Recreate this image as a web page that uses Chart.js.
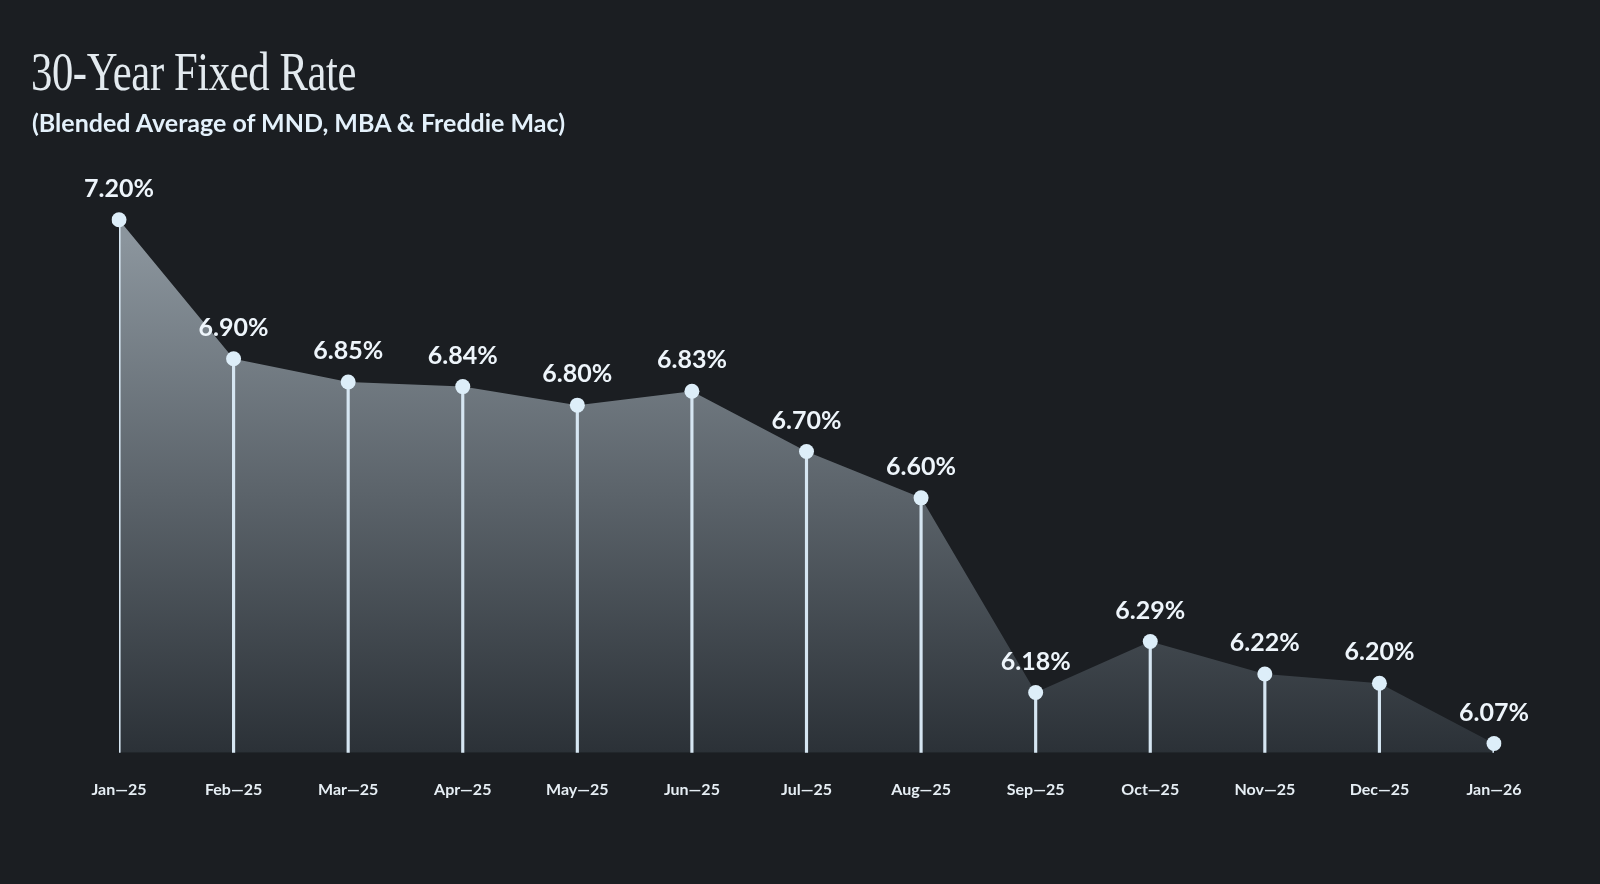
<!DOCTYPE html>
<html>
<head>
<meta charset="utf-8">
<script src="https://cdn.jsdelivr.net/npm/chart.js@4.4.1/dist/chart.umd.min.js"></script>
<style>
  html, body { margin: 0; padding: 0; background: #1b1e22; width: 1600px; height: 884px; overflow: hidden; }
  #wrap { position: relative; width: 1600px; height: 884px; }
  #title { position: absolute; left: 31px; top: 45px; font-family: "Liberation Serif", serif; font-weight: 400; font-size: 54px; line-height: 1; color: #e3eaef; transform: scaleX(0.79); transform-origin: left top; white-space: nowrap; letter-spacing: -0.5px; }
  #subtitle { position: absolute; left: 32px; top: 107px; font-family: Lato, sans-serif; font-weight: 700; font-size: 25px; color: #e4f1fb; white-space: nowrap; }
  canvas { position: absolute; left: 0; top: 0; }
</style>
</head>
<body>
<div id="wrap">
  <canvas id="c" width="1600" height="884"></canvas>
  <div id="title">30-Year Fixed Rate</div>
  <div id="subtitle">(Blended Average of MND, MBA &amp; Freddie Mac)</div>
</div>
<script>
const categories = ["Jan\u201425", "Feb\u201425", "Mar\u201425", "Apr\u201425", "May\u201425", "Jun\u201425", "Jul\u201425", "Aug\u201425", "Sep\u201425", "Oct\u201425", "Nov\u201425", "Dec\u201425", "Jan\u201426"];
const rates = [7.20, 6.90, 6.85, 6.84, 6.80, 6.83, 6.70, 6.60, 6.18, 6.29, 6.22, 6.20, 6.07];
const rateLabels = ["7.20%", "6.90%", "6.85%", "6.84%", "6.80%", "6.83%", "6.70%", "6.60%", "6.18%", "6.29%", "6.22%", "6.20%", "6.07%"];

const valueLabels = {
  id: 'valueLabels',
  afterDatasetsDraw(chart) {
    const meta = chart.getDatasetMeta(1);
    const ctx = chart.ctx;
    ctx.save();
    ctx.font = '700 25px Lato, sans-serif';
    ctx.fillStyle = '#eef5fb';
    ctx.textAlign = 'center';
    ctx.textBaseline = 'middle';
    meta.data.forEach((pt, i) => {
      ctx.fillText(rateLabels[i], pt.x, pt.y - 31);
    });
    ctx.restore();
  }
};

new Chart(document.getElementById('c'), {
  data: {
    labels: categories,
    datasets: [
      {
        type: 'bar',
        data: rates,
        backgroundColor: '#d6e6f2',
        barThickness: 2.5,
        order: 2
      },
      {
        type: 'line',
        data: rates,
        fill: 'start',
        tension: 0,
        borderWidth: 0,
        borderColor: 'rgba(0,0,0,0)',
        backgroundColor(context) {
          const ca = context.chart.chartArea;
          if (!ca) return '#5b646c';
          const g = context.chart.ctx.createLinearGradient(0, ca.top + 60, 0, ca.bottom);
          g.addColorStop(0, '#8b959d');
          g.addColorStop(1, '#2b3137');
          return g;
        },
        pointRadius: 7.5,
        pointHoverRadius: 7.5,
        pointBackgroundColor: '#ddeef9',
        pointBorderWidth: 0,
        order: 1
      }
    ]
  },
  options: {
    responsive: false,
    animation: false,
    layout: { padding: { left: 119, right: 106, top: 178, bottom: 58 } },
    plugins: {
      legend: { display: false },
      tooltip: { enabled: false },
      filler: { drawTime: 'beforeDatasetsDraw' }
    },
    scales: {
      x: {
        offset: false,
        grid: { display: false, drawTicks: false },
        border: { display: false },
        ticks: { color: '#e6eef4', font: { family: 'Lato, sans-serif', weight: '700', size: 16 }, padding: 27, maxRotation: 0 }
      },
      y: {
        display: false,
        min: 6.05,
        max: 7.29
      }
    }
  },
  plugins: [valueLabels]
});
</script>
</body>
</html>
